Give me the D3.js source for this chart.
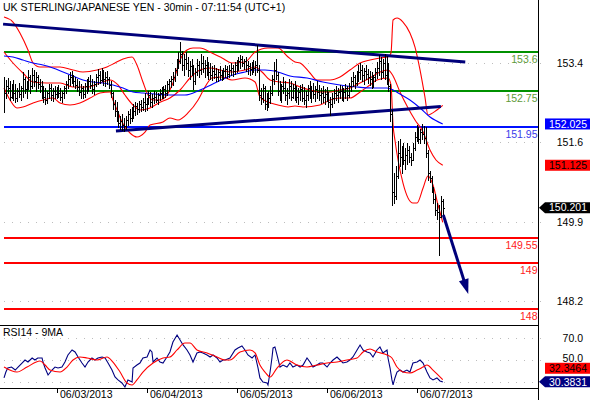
<!DOCTYPE html>
<html><head><meta charset="utf-8">
<script src="https://cdn.jsdelivr.net/npm/d3@7/dist/d3.min.js"></script>
<style>
html,body{margin:0;padding:0;background:#fff;}
svg{display:block;font-family:"Liberation Sans",Arial,sans-serif;}
</style></head><body>
<svg id="c" width="590" height="400"></svg>
<script>
// ---------------- DATA ----------------
const title = "UK STERLING/JAPANESE YEN - 30min - 07:11:54 (UTC+1)";
const rsiTitle = "RSI14 - 9MA";
const high = [
153.05,152.98,153.02,152.95,152.90, 152.98,152.90,152.80,152.92,152.85,
153.15,153.05,152.95,153.20,153.10, 153.25,153.20,153.15,153.10,153.00,
152.95,152.85,152.80,152.75,152.90, 152.90,152.80,152.85,152.82,152.88,
152.80,152.75,152.85,152.95,153.10, 153.15,153.18,153.10,153.05,153.00,
152.95,152.90,152.85,152.92,153.00, 153.05,153.10,153.00,152.95,153.12,
153.22,153.18,153.25,153.20,153.15, 153.18,153.05,152.95,152.72,152.55,
152.50,152.30,152.20,152.25,152.15, 152.20,152.30,152.35,152.40,152.45,
152.50,152.48,152.52,152.55,152.58, 152.70,152.60,152.75,152.72,152.68,
152.75,152.72,152.70,152.78,152.82, 152.85,152.88,152.95,153.00,153.08,
153.15,153.25,153.45,153.60,153.80, 153.62,153.55,153.60,153.48,153.40,
153.45,153.30,153.25,153.45,153.40, 153.55,153.50,153.42,153.48,153.38,
153.35,153.28,153.32,153.25,153.22, 153.28,153.20,153.25,153.30,153.28,
153.30,153.35,153.32,153.38,153.42, 153.48,153.52,153.50,153.45,153.48,
153.40,153.35,153.38,153.42,153.40, 153.75,153.30,152.80,152.90,152.85,
152.70,152.75,152.85,153.10,153.38, 153.45,153.15,152.95,152.90,153.05,
152.95,152.80,153.00,152.95,152.90, 152.95,152.85,152.80,152.88,152.90,
152.82,152.75,152.88,152.95,152.85, 152.92,152.85,152.95,152.88,152.80,
152.85,152.78,152.82,152.72,152.62, 152.70,152.78,152.85,152.80,152.88,
152.85,152.80,152.90,152.85,152.92, 153.05,153.15,153.10,153.18,153.30,
153.35,153.30,153.25,153.32,153.22, 153.18,153.15,153.10,153.25,153.38,
153.52,153.48,153.45,153.55,153.50, 153.35,152.90,152.33,150.95,151.10,
151.65,151.70,151.55,151.60,151.50, 151.62,151.55,151.40,151.60,151.85,
152.00,151.95,151.92,152.02,151.98, 151.95,151.45,151.00,150.90,150.65,
150.50,150.30,150.25,150.45,150.40];
const low = [
152.29,152.60,152.70,152.55,152.58, 152.55,152.50,152.52,152.62,152.55,
152.62,152.70,152.60,152.78,152.70, 152.80,152.85,152.75,152.80,152.72,
152.60,152.50,152.45,152.48,152.60, 152.55,152.52,152.60,152.58,152.62,
152.55,152.50,152.60,152.70,152.80, 152.88,152.92,152.85,152.80,152.75,
152.65,152.60,152.58,152.62,152.70, 152.75,152.80,152.70,152.68,152.85,
152.90,152.92,152.95,152.88,152.85, 152.90,152.80,152.62,152.35,152.20,
152.10,151.95,151.92,151.90,151.88, 151.92,152.00,152.05,152.10,152.15,
152.22,152.25,152.28,152.30,152.32, 152.30,152.32,152.45,152.42,152.40,
152.48,152.50,152.46,152.55,152.58, 152.58,152.62,152.65,152.75,152.82,
152.88,152.95,153.10,153.25,153.35, 153.20,153.10,153.22,153.08,153.00,
153.10,152.78,152.90,153.10,153.05, 153.12,153.15,153.05,153.10,153.00,
153.00,152.98,153.02,152.95,152.95, 153.00,152.98,153.00,153.05,153.02,
153.05,153.10,153.08,153.12,153.15, 153.20,153.25,153.28,153.22,153.18,
153.12,153.10,153.12,153.15,153.10, 153.15,152.55,152.45,152.50,152.35,
152.32,152.40,152.48,152.65,152.90, 153.00,152.65,152.55,152.50,152.70,
152.55,152.45,152.60,152.55,152.60, 152.55,152.50,152.45,152.55,152.52,
152.45,152.40,152.55,152.60,152.50, 152.58,152.52,152.60,152.55,152.48,
152.50,152.45,152.52,152.40,152.22, 152.40,152.48,152.55,152.50,152.58,
152.55,152.52,152.60,152.55,152.62, 152.75,152.85,152.80,152.88,152.95,
153.00,152.95,152.90,153.00,152.92, 152.88,152.80,152.82,152.95,153.02,
153.10,153.00,153.05,153.00,152.90, 152.75,152.10,150.25,150.30,150.40,
150.85,151.10,150.95,151.15,151.05, 151.15,151.20,151.12,151.25,151.45,
151.65,151.60,151.62,151.70,151.60, 151.30,150.80,150.75,150.55,150.30,
150.05,149.95,149.17,150.00,150.05];
const close = [
152.70,152.85,152.80,152.62,152.85, 152.70,152.60,152.75,152.68,152.80,
153.00,152.78,152.90,153.05,152.85, 153.10,152.95,153.05,152.90,152.85,
152.70,152.62,152.55,152.70,152.80, 152.65,152.75,152.68,152.78,152.70,
152.62,152.70,152.80,152.90,153.00, 153.05,153.00,152.95,152.88,152.82,
152.72,152.80,152.68,152.85,152.90, 152.95,152.88,152.78,152.90,153.05,
153.10,152.98,153.15,153.00,153.05, 153.00,152.88,152.70,152.45,152.30,
152.18,152.05,152.10,152.00,151.98, 152.12,152.25,152.15,152.32,152.30,
152.42,152.35,152.45,152.40,152.50, 152.45,152.55,152.65,152.50,152.60,
152.62,152.55,152.65,152.70,152.75, 152.78,152.70,152.90,152.95,153.00,
153.05,153.20,153.35,153.40,153.55, 153.30,153.45,153.35,153.20,153.28,
153.20,152.95,153.15,153.30,153.20, 153.35,153.25,153.30,153.20,153.15,
153.10,153.18,153.12,153.05,153.15, 153.10,153.08,153.18,153.22,153.12,
153.20,153.25,153.18,153.30,153.35, 153.40,153.45,153.35,153.40,153.30,
153.28,153.22,153.30,153.25,153.32, 153.20,152.65,152.60,152.80,152.45,
152.55,152.60,152.70,153.00,153.20, 153.10,152.75,152.70,152.85,152.80,
152.65,152.70,152.85,152.62,152.80, 152.70,152.62,152.72,152.78,152.60,
152.55,152.65,152.80,152.70,152.75, 152.68,152.78,152.72,152.65,152.70,
152.62,152.68,152.58,152.50,152.45, 152.60,152.70,152.65,152.72,152.75,
152.68,152.72,152.80,152.65,152.85, 152.95,153.05,152.92,153.10,153.15,
153.20,153.10,153.18,153.12,153.05, 153.00,152.95,153.05,153.15,153.25,
153.40,153.15,153.35,153.10,153.30, 152.85,152.25,150.55,150.45,150.90,
151.40,151.30,151.45,151.25,151.35, 151.45,151.30,151.25,151.50,151.75,
151.90,151.70,151.85,151.80,151.72, 151.40,150.95,150.85,150.60,150.40,
150.15,150.10,150.00,150.35,150.201];

const dateIdx = [28, 76, 124, 172, 220];
const dateLabels = ["06/03/2013","06/04/2013","06/05/2013","06/06/2013","06/07/2013"];
const priceTicks = [148.16, 149.89, 151.625, 153.36];
const rsiGrid = [30, 50, 70];
const rsiTickLabels = [50, 70];

// Bollinger bands (20,2) and moving average, read as [bar index, price]
const bbUpper = [[0,154.355],[4.8,154.246],[8.5,154.007],[12.8,153.636],[15.5,153.353],[19.2,153.266],[24.5,153.266],[29.9,153.266],[36.8,153.2],[42.1,153.157],[49.6,153.2],[54.9,153.266],[59.2,153.353],[63.5,153.44],[68.3,153.484],[70.9,153.309],[74.1,152.939],[76.8,152.656],[79.5,152.547],[83.2,152.547],[86.9,152.656],[90.1,152.917],[93.9,153.418],[97.6,153.636],[100.8,153.68],[104.5,153.68],[110.9,153.571],[116.3,153.462],[121.6,153.353],[128.5,153.375],[133.9,153.593],[140.8,153.68],[146.1,153.68],[151.5,153.484],[155.2,153.375],[157.9,153.353],[163.2,153.135],[166.9,152.983],[173.9,152.983],[179.2,153.048],[184.5,153.2],[189.9,153.353],[195.2,153.418],[200.5,153.462],[204.8,153.484],[206.4,153.571],[207.5,154.29],[209.6,154.333],[212.8,154.246],[216.5,154.007],[219.2,153.701],[221.9,153.2],[224.5,152.612],[226.1,152.22],[230.9,152.329],[234,152.43]];
const bbMid = [[0,153.593],[4.8,153.353],[10.1,153.135],[15.5,152.939],[22.9,152.917],[29.9,152.917],[36.8,152.83],[44.3,152.83],[51.2,152.917],[56.5,152.983],[60.8,152.874],[64.5,152.656],[68.8,152.438],[72.5,152.329],[77.9,152.373],[83.2,152.5],[88.5,152.59],[93.9,152.765],[99.2,153.026],[104.5,153.2],[109.9,153.244],[115.2,153.2],[121.6,153.157],[128.5,153.2],[133.9,153.266],[137.6,153.157],[141.9,152.983],[147.2,152.939],[152.5,152.917],[157.9,152.83],[163.2,152.765],[168.5,152.721],[173.9,152.721],[179.2,152.765],[184.5,152.808],[189.9,152.917],[195.2,153.026],[200.5,153.157],[204.8,153.2],[207.5,153.07],[211.2,152.721],[215.5,152.373],[219.2,152.111],[223.5,151.849],[227.2,151.458],[230.4,151.24],[234,151.125]];
const bbLower = [[0,152.808],[3.2,152.547],[6.9,152.373],[10.1,152.395],[15.5,152.481],[20.8,152.547],[26.1,152.59],[29.9,152.481],[35.2,152.438],[40.5,152.481],[45.9,152.59],[51.2,152.699],[56.5,152.721],[58.1,152.547],[60.3,152.329],[62.9,152.068],[67.2,151.828],[70.9,151.741],[75.2,151.849],[77.9,152.002],[84.8,152.068],[88.5,152.155],[92.8,152.111],[98.1,152.264],[103.5,152.547],[107.2,152.83],[110.9,153.026],[116.3,153.048],[121.6,152.983],[128.5,153.026],[133.9,152.939],[136.5,152.612],[140.8,152.503],[146.1,152.438],[151.5,152.395],[155.2,152.416],[159.5,152.395],[168.5,152.438],[173.9,152.547],[179.2,152.59],[184.5,152.59],[189.9,152.721],[195.2,152.874],[198.9,152.983],[204.8,153.026],[206.4,152.874],[207.5,152.002],[208.5,151.675],[212.8,150.738],[218.1,150.303],[220.3,150.303],[223.5,150.629],[226.1,150.891],[228.8,150.695],[231.5,150.259],[234,149.88]];
const maBlue = [[0,153.505],[4.8,153.484],[10.1,153.418],[15.5,153.353],[20.8,153.309],[26.1,153.244],[31.5,153.157],[36.8,153.07],[42.1,152.983],[47.5,152.939],[52.8,152.917],[58.1,152.874],[63.5,152.808],[68.8,152.721],[74.1,152.699],[80.5,152.677],[88.5,152.656],[96.5,152.656],[104.5,152.765],[113.6,152.939],[122.1,153.092],[128.5,153.157],[133.9,153.2],[139.2,153.2],[146.1,153.157],[152.5,153.07],[161.6,153.026],[170.1,152.939],[179.2,152.874],[188.3,152.83],[196.8,152.808],[204.3,152.808],[207.5,152.765],[211.2,152.677],[216.5,152.547],[221.9,152.373],[227.2,152.176],[234,152.025]];

// RSI(14) and its 9-period MA, read as [bar index, value]
const rsi = [[0,33.9],[1,39.2],[2,42.8],[4,43.7],[6,41],[7.5,43.7],[9.6,47.3],[11.2,50],[12.8,48.2],[15,51.8],[16.5,50],[18,51.8],[20.3,51.8],[20.8,48.2],[21.9,42.8],[23.5,36.5],[25.6,41],[27.2,43.7],[28.8,42.8],[30.9,43.7],[32.5,48.2],[34.1,54.5],[36.3,59],[37.9,57.2],[39.5,52.7],[41.6,47.3],[43.2,43.7],[44.8,48.2],[46.9,51.8],[48.5,50],[50.1,51.8],[52.3,52.7],[53.9,51.8],[55.5,47.3],[57.6,41],[59.2,34.8],[60.8,32.1],[62.9,29.4],[64.5,25.8],[66.1,32.1],[68.3,30.3],[68.8,42.8],[70.9,45.5],[72.5,47.3],[74.1,51.8],[76.3,52.7],[77.9,59],[78.9,57.2],[79.5,48.2],[81.6,51.8],[83.2,48.2],[84.8,47.3],[86.9,52.7],[88.5,57.2],[90.1,66.1],[92.3,72.4],[93.9,67.9],[95.5,63.5],[97.6,59],[99.2,54.5],[100.8,48.2],[102.9,56.3],[104.5,57.2],[106.1,56.3],[108.3,54.5],[109.9,52.7],[111.5,54.5],[113.6,51.8],[115.2,48.2],[116.8,50],[117.9,50],[120.5,51.8],[123.2,59],[124.8,60.8],[126.9,62.6],[128.5,59],[130.1,54.5],[132.3,51.8],[133.9,54.5],[135.5,42.8],[136.5,33.9],[138.1,30.3],[140.3,29.4],[140.8,27.6],[141.9,39.2],[142.9,51.8],[143.5,60.8],[144.5,61.7],[145.6,54.5],[147.2,43.7],[148.8,45.5],[150.9,43.7],[152.5,47.3],[154.1,43.7],[156.3,45.5],[157.9,43.7],[159.5,45.5],[161.6,51.8],[163.2,48.2],[164.8,43.7],[166.9,45.5],[168.5,47.3],[170.1,47.3],[172.3,43.7],[173.9,47.3],[175.5,50],[177.6,52.7],[179.2,50],[180.8,47.3],[182.9,48.2],[184.5,50],[186.1,52.7],[188.3,59],[189.9,63.5],[191.5,59],[193.6,57.2],[195.2,56.3],[196.8,52.7],[198.9,59],[200.5,61.7],[202.1,56.3],[204.3,59],[204.8,51.8],[205.9,42.8],[206.9,32.1],[207.5,27.6],[208.5,33.9],[209.6,39.2],[211.2,41],[212.8,39.2],[214.9,41],[216.5,39.2],[218.1,47.3],[220.3,48.2],[221.9,50],[223.5,47.3],[225.6,39.2],[227.2,33.9],[228.8,32.1],[230.9,33.9],[232.5,31.2],[234,30.3831]];
const rsiMA = [[0,43.7],[6.9,39.2],[12.3,43.7],[19.2,49.1],[21.9,45.5],[24.5,41],[29.9,39.2],[33.6,43.7],[36.8,50],[40.5,52.7],[44.3,51.8],[49.6,50],[54.9,52.7],[58.1,48.2],[61.9,39.2],[65.6,29.4],[68.3,27.6],[70.9,32.1],[74.1,39.2],[79.5,47.3],[84.8,51.8],[88.5,52.7],[92.3,59],[96.5,65.2],[99.2,65.2],[102.9,59],[108.3,56.3],[113.6,52.7],[117.9,50],[120.5,50],[125.9,57.2],[131.2,59],[133.9,56.3],[136.5,45.5],[139.2,39.2],[141.9,34.8],[145.6,42.8],[150.9,50],[156.3,45.5],[161.6,43.7],[166.9,45.5],[172.3,47.3],[177.6,48.2],[182.9,50],[188.3,51.8],[191.5,57.2],[195.2,59.9],[198.9,57.2],[204.3,54.5],[206.9,51.8],[209.6,43.7],[212.8,39.2],[216.5,38.3],[220.3,41],[223.5,43.7],[225.6,45.5],[228.8,41],[234,32.3464]];

// Annotations
const levelValues = [153.6, 152.75, 151.95, 149.55, 149, 148];
const levelLabels = ["153.6","152.75","151.95","149.55","149","148"];
const levelKinds  = ["support","support","pivot","target","target","target"];
const trendUpper = [[-0.5,154.20],[246,153.375]];
const trendLower = [[59.7,151.87],[233,152.405]];
const arrowPts = [[234.3,150.04],[247.6,148.32]];
const lastClose = 150.201, lastMA = 152.025, lastMid = 151.125;
const lastRSI = 30.3831, lastRSIMA = 32.3464;

// ---------------- DRAW ----------------
const svg = d3.select("#c");
const FS = "10.5px";
const AX = 538;
const kindColor = {support:"#009100", pivot:"#0010ff", target:"#ff0000"};
const kindText  = {support:"#5e9a38", pivot:"#3b3bea", target:"#ff1a1a"};

const x  = d3.scaleLinear().domain([0, 234]).range([4, 442.75]);
const yM = d3.scaleLinear().domain([148, 153.6]).range([308.7, 51.66]);
const yR = d3.scaleLinear().domain([30, 70]).range([382.3, 337.7]);

svg.append("rect").attr("width",590).attr("height",400).attr("fill","#fff");

const defs = svg.append("defs");
defs.append("clipPath").attr("id","clipM").append("rect").attr("x",0).attr("y",13).attr("width",AX).attr("height",312);
defs.append("clipPath").attr("id","clipR").append("rect").attr("x",0).attr("y",326).attr("width",AX).attr("height",62);

// grid
const grid = svg.append("g").attr("stroke","#bdbdbd").attr("stroke-width",1).attr("stroke-dasharray","1,7");
grid.selectAll("line.gm").data(priceTicks).join("line")
  .attr("x1",4).attr("x2",543).attr("y1",d=>Math.round(yM(d))+0.5).attr("y2",d=>Math.round(yM(d))+0.5);
grid.selectAll("line.gr").data(rsiGrid).join("line")
  .attr("x1",4).attr("x2",543).attr("y1",d=>Math.round(yR(d))+0.5).attr("y2",d=>Math.round(yR(d))+0.5);

const main = svg.append("g").attr("clip-path","url(#clipM)");

// horizontal levels (2px, pixel aligned)
main.append("g").attr("shape-rendering","crispEdges").selectAll("line").data(levelValues).join("line")
  .attr("x1",4).attr("x2",AX).attr("y1",d=>Math.round(yM(d))).attr("y2",d=>Math.round(yM(d)))
  .attr("stroke",(d,i)=>kindColor[levelKinds[i]]).attr("stroke-width",2);

// indicator lines
const lineM = d3.line().x(d=>x(d[0])).y(d=>yM(d[1])).curve(d3.curveMonotoneX);
[[bbUpper,"#ff0000"],[bbMid,"#ff0000"],[bbLower,"#ff0000"],[maBlue,"#0000ff"]].forEach(([s,c])=>{
  main.append("path").attr("d",lineM(s)).attr("fill","none").attr("stroke",c).attr("stroke-width",1.1);
});

// trend lines
const lineL = d3.line().x(d=>x(d[0])).y(d=>yM(d[1]));
[trendUpper, trendLower].forEach(t=>{
  main.append("path").attr("d",lineL(t)).attr("fill","none").attr("stroke","#00007a").attr("stroke-width",3);
});

// OHLC bars
const bars = main.append("g").attr("stroke","#000").attr("shape-rendering","crispEdges");
const idx = d3.range(close.length);
const bx = i => Math.round(x(i)) + 0.5;
bars.selectAll("line.v").data(idx).join("line")
  .attr("x1",bx).attr("x2",bx).attr("y1",i=>Math.round(yM(high[i]))).attr("y2",i=>Math.round(yM(low[i]))+1);
bars.selectAll("line.c").data(idx).join("line")
  .attr("x1",bx).attr("x2",i=>bx(i)+1.5).attr("y1",i=>Math.round(yM(close[i]))+0.5).attr("y2",i=>Math.round(yM(close[i]))+0.5);
bars.selectAll("line.o").data(idx.slice(1)).join("line")
  .attr("x1",i=>bx(i)-1.5).attr("x2",bx).attr("y1",i=>Math.round(yM(close[i-1]))+0.5).attr("y2",i=>Math.round(yM(close[i-1]))+0.5);

// arrow
{
  const p0 = [x(arrowPts[0][0]), yM(arrowPts[0][1])];
  const p1 = [x(arrowPts[1][0]), yM(arrowPts[1][1])];
  const dx = p1[0]-p0[0], dy = p1[1]-p0[1], L = Math.hypot(dx,dy);
  const ux = dx/L, uy = dy/L, hl = 15, hw = 5;
  const b = [p1[0]-ux*hl, p1[1]-uy*hl];
  main.append("line").attr("x1",p0[0]).attr("y1",p0[1]).attr("x2",b[0]+ux*2).attr("y2",b[1]+uy*2)
    .attr("stroke","#00007a").attr("stroke-width",3);
  main.append("path").attr("fill","#00007a")
    .attr("d",`M${p1[0]},${p1[1]}L${b[0]-uy*hw},${b[1]+ux*hw}L${b[0]+uy*hw},${b[1]-ux*hw}Z`);
}

// level labels
svg.append("g").selectAll("text").data(levelValues).join("text")
  .attr("x",AX-0.5).attr("y",d=>Math.round(yM(d))+10.7).attr("text-anchor","end")
  .attr("font-size",FS).attr("fill",(d,i)=>kindText[levelKinds[i]]).text((d,i)=>levelLabels[i]);

// RSI panel
const rp = svg.append("g").attr("clip-path","url(#clipR)");
const lineR = d3.line().x(d=>x(d[0])).y(d=>yR(d[1]));
rp.append("path").attr("d",lineR(rsi)).attr("fill","none").attr("stroke","#000080").attr("stroke-width",1.1);
rp.append("path").attr("d",lineR.curve(d3.curveMonotoneX)(rsiMA)).attr("fill","none").attr("stroke","#ff0000").attr("stroke-width",1.1);

// frame lines
const fr = svg.append("g").attr("stroke","#000").attr("shape-rendering","crispEdges");
fr.append("line").attr("x1",AX+0.5).attr("x2",AX+0.5).attr("y1",0).attr("y2",400);
fr.append("line").attr("x1",0).attr("x2",AX).attr("y1",325.5).attr("y2",325.5);
fr.append("line").attr("x1",0).attr("x2",AX).attr("y1",388.5).attr("y2",388.5);

// axes
const ya = svg.append("g").attr("transform",`translate(${AX},0)`)
  .call(d3.axisRight(yM).tickValues(priceTicks).tickFormat(d3.format(".1f")).tickSize(0));
const yb = svg.append("g").attr("transform",`translate(${AX},0)`)
  .call(d3.axisRight(yR).tickValues(rsiTickLabels).tickFormat(d3.format(".1f")).tickSize(0));
[ya,yb].forEach(g=>{
  g.select(".domain").remove();
  g.selectAll("text").attr("x",45).attr("text-anchor","end").attr("font-size",FS)
    .attr("font-family","Liberation Sans, Arial, sans-serif").attr("fill","#000");
});
// the 50.0 label sits just above the red MA box
yb.selectAll("text").filter(d=>d===50).attr("dy",null).attr("y",1);
const xa = svg.append("g").attr("transform","translate(0,388)")
  .call(d3.axisBottom(x).tickValues(dateIdx).tickFormat((d,i)=>dateLabels[i]).tickSize(5));
xa.select(".domain").remove();
xa.selectAll("line").attr("stroke","#000").attr("shape-rendering","crispEdges");
xa.selectAll("text").attr("text-anchor","start").attr("x",3).attr("y",9.5).attr("dy",0)
  .attr("font-size",FS).attr("font-family","Liberation Sans, Arial, sans-serif").attr("fill","#000");

// price boxes
function box(yc, fill, tc, txt, pointer){
  const h = 11, g = svg.append("g");
  if(pointer){
    g.append("path").attr("fill",fill)
     .attr("d",`M539,${yc}L545,${yc-h/2}L590,${yc-h/2}L590,${yc+h/2}L545,${yc+h/2}Z`);
  } else {
    g.append("rect").attr("x",545).attr("y",yc-h/2).attr("width",45).attr("height",h).attr("fill",fill);
  }
  g.append("text").attr("x",587).attr("y",yc+3.8).attr("text-anchor","end")
   .attr("font-size",FS).attr("fill",tc).text(txt);
}
box(yM(lastMA), "#0000ff", "#fff", d3.format(".3f")(lastMA), false);
box(yM(lastMid), "#ff0000", "#000", d3.format(".3f")(lastMid), false);
box(yM(lastClose), "#000", "#fff", d3.format(".3f")(lastClose), true);
const nyc = yR(lastRSI);
const ryc = Math.min(yR(lastRSIMA), nyc - 13.6);
box(ryc, "#ff0000", "#000", d3.format(".4f")(lastRSIMA), false);
box(nyc, "#000080", "#fff", d3.format(".4f")(lastRSI), true);

// titles
svg.append("text").attr("x",3).attr("y",10.7).attr("font-size",FS).attr("fill","#000").text(title);
svg.append("text").attr("x",3).attr("y",335.5).attr("font-size",FS).attr("fill","#000").text(rsiTitle);
</script>
</body></html>
